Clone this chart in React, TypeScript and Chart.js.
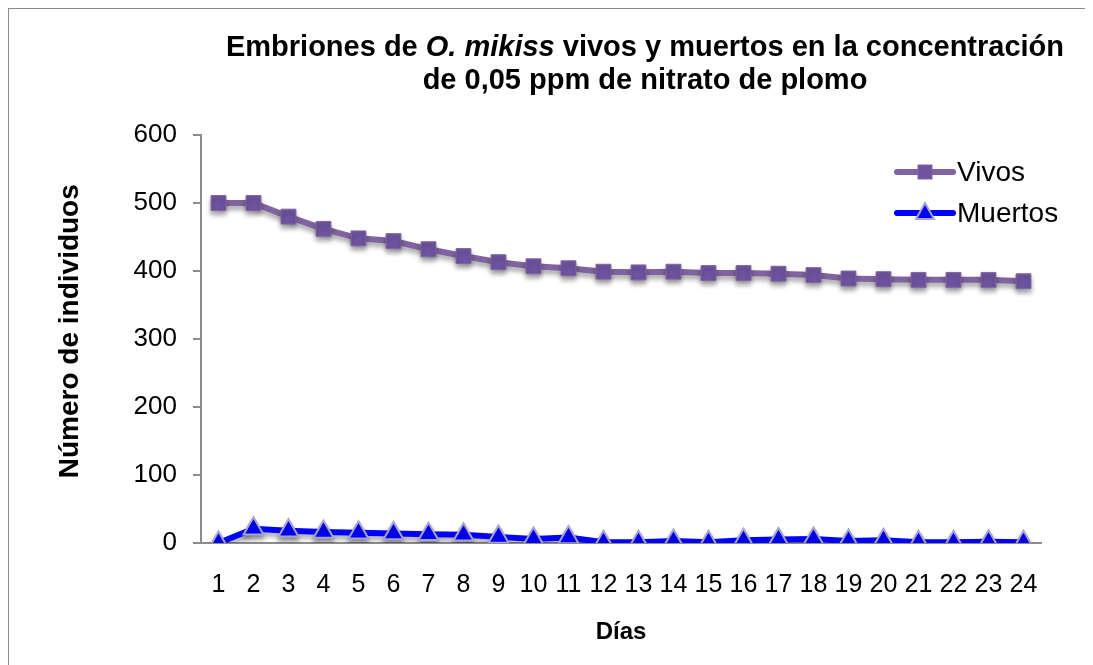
import React, { useEffect, useRef } from "react";
import { Chart, registerables } from "chart.js";

Chart.register(...registerables);

const days = ["1","2","3","4","5","6","7","8","9","10","11","12","13","14","15","16","17","18","19","20","21","22","23","24"];
const vivos = [500, 500, 480, 462, 448, 444, 432, 422, 413, 407, 404, 399, 398, 399, 397, 397, 396, 394, 389, 388, 387, 387, 387, 385];
const muertos = [0, 21, 18, 16, 15, 14, 13, 12, 9, 6, 8, 1, 1, 3, 1, 4, 5, 6, 3, 4, 1, 1, 2, 1];
const yTicks = [0, 100, 200, 300, 400, 500, 600];

const titleLine1 = [
  { text: "Embriones de ", italic: false },
  { text: "O. mikiss", italic: true },
  { text: " vivos y muertos en la concentración", italic: false },
];
const titleLine2 = "de 0,05 ppm de nitrato de plomo";
const seriesNames = ["Vivos", "Muertos"];
const yTitle = "  Número de individuos";
const xTitle = "Días";

const FONT = "'Liberation Sans', Arial, sans-serif";
const VIVOS_LINE = "#8064A2";
const VIVOS_FILL = "#6F53A0";
const MUERTOS_LINE = "#0000FF";
const MUERTOS_BORDER = "#A7A2D4";

const titlePlugin = {
  id: "customTitle",
  afterDraw(chart: any) {
    const ctx = chart.ctx;
    ctx.save();
    ctx.fillStyle = "#000";
    ctx.textBaseline = "middle";
    const cx = 636;
    const size = 29;
    const fonts = (it: boolean) => `${it ? "italic " : ""}bold ${size}px ${FONT}`;
    let total = 0;
    const widths = titleLine1.map((s) => {
      ctx.font = fonts(s.italic);
      const w = ctx.measureText(s.text).width;
      total += w;
      return w;
    });
    let x = cx - total / 2;
    ctx.textAlign = "left";
    titleLine1.forEach((s, i) => {
      ctx.font = fonts(s.italic);
      ctx.fillText(s.text, x, 39);
      x += widths[i];
    });
    ctx.font = fonts(false);
    ctx.textAlign = "center";
    ctx.fillText(titleLine2, cx, 72);
    ctx.restore();
  },
};

const legendPlugin = {
  id: "customLegend",
  afterDraw(chart: any) {
    const ctx = chart.ctx;
    ctx.save();
    const x0 = 888, x1 = 944;
    const rows = [163, 204];
    rows.forEach((y, i) => {
      ctx.lineCap = "round";
      ctx.lineWidth = 6;
      ctx.strokeStyle = i === 0 ? VIVOS_LINE : MUERTOS_LINE;
      ctx.beginPath();
      ctx.moveTo(x0, y);
      ctx.lineTo(x1, y);
      ctx.stroke();
      const mx = (x0 + x1) / 2;
      if (i === 0) {
        ctx.fillStyle = VIVOS_FILL;
        ctx.strokeStyle = VIVOS_LINE;
        ctx.lineWidth = 1;
        ctx.fillRect(mx - 7, y - 7, 14, 14);
        ctx.strokeRect(mx - 7, y - 7, 14, 14);
      } else {
        ctx.fillStyle = MUERTOS_LINE;
        ctx.strokeStyle = MUERTOS_BORDER;
        ctx.lineWidth = 2;
        ctx.beginPath();
        ctx.moveTo(mx, y - 10);
        ctx.lineTo(mx + 9, y + 6);
        ctx.lineTo(mx - 9, y + 6);
        ctx.closePath();
        ctx.fill();
        ctx.stroke();
      }
      ctx.fillStyle = "#000";
      ctx.font = `28px ${FONT}`;
      ctx.textAlign = "left";
      ctx.textBaseline = "middle";
      ctx.fillText(seriesNames[i], x1 + 4, y + 1);
    });
    ctx.restore();
  },
};

const shadowPlugin = {
  id: "markerShadow",
  beforeDatasetDraw(chart: any) {
    const ctx = chart.ctx;
    ctx.save();
    ctx.shadowColor = "rgba(0,0,0,0.35)";
    ctx.shadowBlur = 5;
    ctx.shadowOffsetX = 0;
    ctx.shadowOffsetY = 4;
  },
  afterDatasetDraw(chart: any) {
    chart.ctx.restore();
  },
};

export default function App() {
  const ref = useRef<HTMLCanvasElement | null>(null);
  useEffect(() => {
    document.body.style.overflow = "hidden";
    if (!ref.current) return;
    const chart = new Chart(ref.current, {
      type: "line",
      data: {
        labels: days,
        datasets: [
          {
            label: seriesNames[0],
            data: vivos,
            borderColor: VIVOS_LINE,
            borderWidth: 6,
            pointStyle: "rect",
            pointRadius: 10.5,
            pointBackgroundColor: VIVOS_FILL,
            pointBorderColor: VIVOS_LINE,
            pointBorderWidth: 1,
            tension: 0,
          },
          {
            label: seriesNames[1],
            data: muertos,
            borderColor: MUERTOS_LINE,
            borderWidth: 6,
            pointStyle: "triangle",
            pointRadius: 11.5,
            pointBackgroundColor: MUERTOS_LINE,
            pointBorderColor: MUERTOS_BORDER,
            pointBorderWidth: 2,
            tension: 0,
          },
        ],
      },
      options: {
        animation: false,
        responsive: false,
        maintainAspectRatio: false,
        layout: { padding: { top: 126, right: 52, left: 0, bottom: 0 } },
        plugins: {
          legend: { display: false },
          title: { display: false },
          tooltip: { enabled: false },
        },
        scales: {
          x: {
            type: "category",
            offset: true,
            grid: { display: false, drawTicks: false },
            border: { display: true, color: "#8C8C8C", width: 2 },
            ticks: {
              color: "#000",
              font: { family: FONT, size: 25 },
              padding: 27,
              maxRotation: 0,
              autoSkip: false,
            },
            title: {
              display: true,
              text: xTitle,
              color: "#000",
              font: { family: FONT, size: 24, weight: "bold" },
              padding: { top: 0, bottom: 18 },
            },
            afterFit(scale: any) {
              scale.height = 122;
            },
          },
          y: {
            min: 0,
            max: 600,
            afterBuildTicks(scale: any) {
              scale.ticks = yTicks.map((v) => ({ value: v }));
            },
            grid: {
              display: true,
              drawOnChartArea: false,
              drawTicks: true,
              tickLength: 8,
              color: "#8C8C8C",
              lineWidth: 2,
            },
            border: { display: true, color: "#8C8C8C", width: 2 },
            ticks: {
              color: "#000",
              font: { family: FONT, size: 26 },
              padding: 16,
            },
            title: {
              display: true,
              text: yTitle,
              color: "#000",
              font: { family: FONT, size: 28, weight: "bold" },
              padding: { top: 44, bottom: 0 },
            },
            afterFit(scale: any) {
              scale.width = 192;
            },
          },
        },
      },
      plugins: [shadowPlugin, titlePlugin, legendPlugin],
    });
    return () => chart.destroy();
  }, []);
  return (
    <div
      style={{
        width: 1100,
        height: 656,
        borderLeft: "1px solid #8C8C8C",
        borderTop: "1px solid #8C8C8C",
        background: "#fff",
      }}
    >
      <canvas ref={ref} width={1084} height={656} style={{ display: "block" }} />
    </div>
  );
}
